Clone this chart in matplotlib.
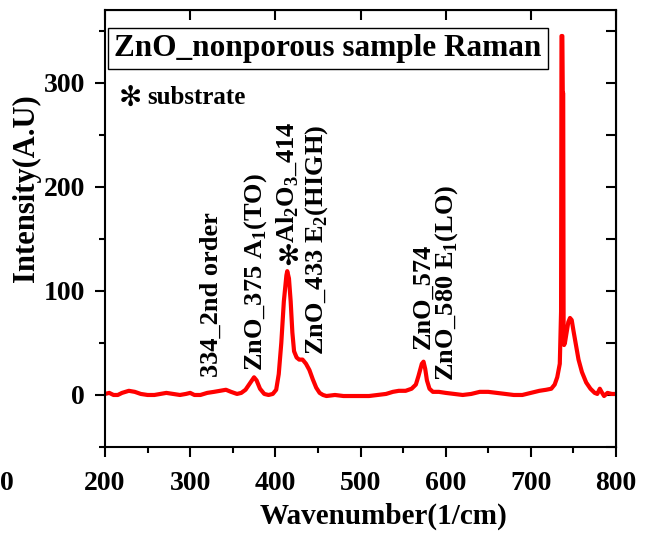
import matplotlib.pyplot as plt
from matplotlib.ticker import MultipleLocator

# Raman spectrum of the nonporous ZnO sample
wavenumber = [200, 205, 210, 215, 220, 228, 235, 242, 250, 258, 265, 272, 280, 288, 295,
              300, 305, 312, 320, 328, 335, 342, 348, 355, 360, 365, 370, 375, 378, 382,
              387, 392, 397, 401, 404, 407, 410, 413, 414, 416, 418, 420, 422, 425, 428,
              432, 436, 440, 444, 448, 452, 456, 460, 470, 480, 490, 500, 510, 520, 530,
              538, 545, 553, 560, 565, 568, 572, 574, 576, 578, 581, 585, 592, 600, 610,
              620, 630, 640, 650, 660, 670, 680, 690, 700, 710, 718, 724, 728, 731, 734,
              735.5, 736, 737, 737.5, 738, 738.5, 739, 740, 742, 744, 746, 748, 750, 753,
              756, 760, 765, 770, 775, 778, 781, 783, 786, 790, 795, 800]
intensity = [1, 2, 0, 0, 2, 4, 3, 1, 0, 0, 1, 2, 1, 0, 1,
             2, 0, 0, 2, 3, 4, 5, 3, 1, 2, 5, 11, 17, 14, 6,
             1, 0, 1, 5, 20, 50, 90, 115, 119, 112, 90, 60, 42, 36, 34,
             34, 30, 24, 15, 7, 2, 0, -1, 0, -1, -1, -1, -1, 0, 1,
             3, 4, 4, 6, 10, 18, 30, 32, 25, 14, 6, 3, 3, 2, 1,
             0, 1, 3, 3, 2, 1, 0, 0, 2, 4, 5, 6, 10, 17, 30,
             80, 345, 345, 290, 290, 60, 48, 50, 60, 70, 74, 72, 62, 48,
             34, 22, 12, 6, 2, 1, 6, 3, -1, 2, 1, 1]

# peak labels: centre wavenumber, intensity at the label's bottom, text
label_x = [325, 377, 415, 449, 574, 601]
label_y = [17, 23, 146, 38, 44, 13]
label_text = ["334_2nd order", r"ZnO_375 A$_\mathbf{1}$(TO)",
              r"Al$_\mathbf{2}$O$_\mathbf{3}$_414",
              r"ZnO_433 E$_\mathbf{2}$(HIGH)", "ZnO_574", r"ZnO_580 E$_\mathbf{1}$(LO)"]
substrate_x = 415
substrate_y = 133

plt.rcParams['font.family'] = ['Liberation Serif', 'DejaVu Sans']
plt.rcParams['font.weight'] = 'bold'
plt.rcParams['mathtext.fontset'] = 'custom'
plt.rcParams['mathtext.rm'] = 'Liberation Serif:bold'
plt.rcParams['mathtext.bf'] = 'Liberation Serif:bold'

fig = plt.figure(figsize=(6.46, 5.35), dpi=100)
ax = fig.add_axes([105 / 646, 88 / 535, 511 / 646, 437 / 535])

ax.plot(wavenumber, intensity, color='red', lw=3)
ax.set_xlim(200, 800)
ax.set_ylim(-50, 370)

ax.xaxis.set_major_locator(MultipleLocator(100))
ax.xaxis.set_minor_locator(MultipleLocator(50))
ax.yaxis.set_major_locator(MultipleLocator(100))
ax.yaxis.set_minor_locator(MultipleLocator(50))
ax.tick_params(which='major', direction='out', length=7.5, width=1.5, labelsize=20, pad=7)
ax.tick_params(axis='x', which='major', pad=10)
ax.tick_params(which='minor', direction='out', length=4, width=1.5)
for s in ax.spines.values():
    s.set_linewidth(1.5)

# inward ticks on the top and right edges
top = ax.secondary_xaxis('top')
top.xaxis.set_major_locator(MultipleLocator(100))
top.tick_params(direction='in', length=7, width=1.5, labeltop=False)
right = ax.secondary_yaxis('right')
right.yaxis.set_major_locator(MultipleLocator(50))
right.tick_params(direction='in', length=7, width=1.5, labelright=False)

ax.set_xlabel("Wavenumber(1/cm)", fontsize=21, fontweight='bold')
ax.set_ylabel("Intensity(A.U)", fontsize=22, fontweight='bold')
ax.xaxis.set_label_coords(0.545, -0.128)
ax.yaxis.set_label_coords(-0.125, 0.593)

ax.text(0.018, 0.912, "ZnO_nonporous sample Raman", transform=ax.transAxes,
        fontsize=22.5, fontweight='bold', va='center', ha='left',
        bbox=dict(boxstyle='square,pad=0.2', fc='white', ec='black', lw=1))

ax.text(0.049, 0.8, "\u273b", transform=ax.transAxes, fontsize=20,
        family='DejaVu Sans', va='center', ha='center')
ax.text(0.082, 0.8, "substrate", transform=ax.transAxes, fontsize=18,
        fontweight='bold', va='center', ha='left')

for x, y, t in zip(label_x, label_y, label_text):
    ax.text(x, y, t, rotation=90, fontsize=19, fontweight='bold',
            ha='center', va='bottom')

# substrate marker on the Al2O3 line
ax.text(substrate_x, substrate_y, "\u273b", fontsize=20, family='DejaVu Sans',
        ha='center', va='center')

# clipped leftover tick label at the figure's edge
fig.text(0.0, 52 / 535, "0", fontsize=20, fontweight='bold', ha='left', va='center')

fig.savefig("out.png", dpi=100)
